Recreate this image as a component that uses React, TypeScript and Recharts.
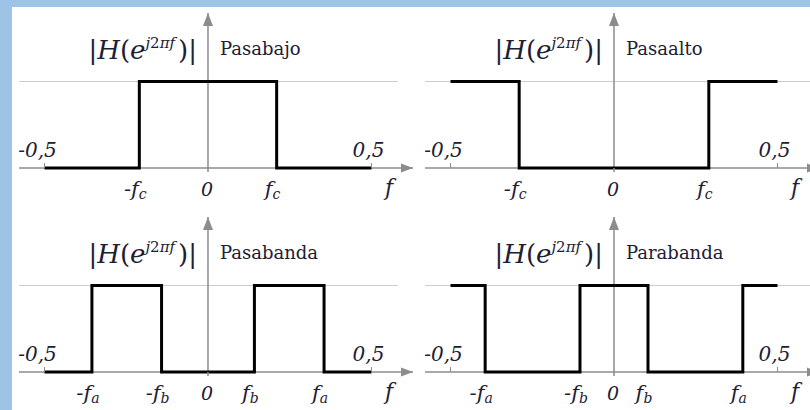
import { useMemo } from 'react'
import { Line, LineChart, ReferenceDot, ReferenceLine, XAxis, YAxis } from 'recharts'

// normalised frequency axis, the plot runs a little past ±0.5 to leave room for the arrow
const X_MIN = -0.578
const X_MAX = 0.627
const Y_MAX = 1.792

const axisGray = '#8c8c8c'
const gridGray = '#cdcdcd'
const textColor = '#1c2033'
const frameBlue = '#9dc3e6'
const serif = '"DejaVu Serif", "Liberation Serif", serif'

// ideal responses: breakpoints on f and the gain |H| at each of them
const lowpassF = [-0.5, -0.21, -0.21, 0.21, 0.21, 0.5]
const lowpassH = [0, 0, 1, 1, 0, 0]
const lowpassTicks = [-0.5, -0.21, 0, 0.21, 0.5]
const lowpassTickLabels = ['-0,5', '-fc', '0', 'fc', '0,5']

const highpassF = [-0.5, -0.29, -0.29, 0.29, 0.29, 0.5]
const highpassH = [1, 1, 0, 0, 1, 1]
const highpassTicks = [-0.5, -0.29, 0, 0.29, 0.5]
const highpassTickLabels = ['-0,5', '-fc', '0', 'fc', '0,5']

const bandpassF = [-0.5, -0.355, -0.355, -0.142, -0.142, 0.142, 0.142, 0.355, 0.355, 0.5]
const bandpassH = [0, 0, 1, 1, 0, 0, 1, 1, 0, 0]
const bandpassTicks = [-0.5, -0.355, -0.142, 0, 0.142, 0.355, 0.5]
const bandpassTickLabels = ['-0,5', '-fa', '-fb', '0', 'fb', 'fa', '0,5']

const bandstopF = [-0.5, -0.394, -0.394, -0.104, -0.104, 0.104, 0.104, 0.394, 0.394, 0.5]
const bandstopH = [1, 1, 0, 0, 1, 1, 0, 0, 1, 1]
const bandstopTicks = [-0.5, -0.394, -0.104, 0, 0.104, 0.394, 0.5]
const bandstopTickLabels = ['-0,5', '-fa', '-fb', '0', 'fb', 'fa', '0,5']

type PanelProps = {
  name: string
  f: number[]
  h: number[]
  ticks: number[]
  tickLabels: string[]
  gridEnd: number
  left: number
  top: number
}

function FreqTick({ x, y, value, label }: { x: number; y: number; value: number; label: string }) {
  if (Math.abs(value) === 0.5) {
    return (
      <g>
        <line x1={x} y1={y - 5} x2={x} y2={y} stroke={axisGray} strokeWidth={1} />
        <text
          x={value < 0 ? x - 7 : x - 3}
          y={y - 11}
          textAnchor="middle"
          fontFamily={serif}
          fontStyle="italic"
          fontSize={20}
          fill={textColor}
        >
          {label}
        </text>
      </g>
    )
  }
  const m = /^(-?)f(\w)$/.exec(label)
  if (!m) {
    return (
      <g>
        <line x1={x} y1={y} x2={x} y2={y + 4} stroke={axisGray} strokeWidth={1.5} />
        <text x={x - 1} y={y + 28} textAnchor="middle" fontFamily={serif} fontStyle="italic" fontSize={19} fill={textColor}>
          {label}
        </text>
      </g>
    )
  }
  return (
    <text x={x - 4} y={y + 28} textAnchor="middle" fontFamily={serif} fontStyle="italic" fontSize={21} fill={textColor}>
      {m[1]}f
      <tspan fontSize={14} dy={3}>
        {m[2]}
      </tspan>
    </text>
  )
}

function FilterPanel({ name, f, h, ticks, tickLabels, gridEnd, left, top }: PanelProps) {
  const data = useMemo(() => f.map((v, i) => ({ f: v, h: h[i] })), [f, h])

  const renderTitle = (props: any) => {
    const vb = props.viewBox ?? {}
    const x = vb.x ?? 0
    const y = vb.y ?? 0
    return (
      <g>
        <text x={x - 11} y={y + 46} textAnchor="end" fontFamily={serif} fontSize={26} fill={textColor}>
          <tspan>|</tspan>
          <tspan fontStyle="italic">H</tspan>
          <tspan>(</tspan>
          <tspan fontStyle="italic">e</tspan>
          <tspan fontSize={15} dy={-11} fontStyle="italic">
            j
          </tspan>
          <tspan fontSize={15}>2</tspan>
          <tspan fontSize={15} fontStyle="italic">
            πf
          </tspan>
          <tspan dy={11} dx={3}>
            )|
          </tspan>
        </text>
        <text x={x + 12} y={y + 42} fontFamily={serif} fontSize={18} fill={textColor}>
          {name}
        </text>
      </g>
    )
  }

  const renderAxisName = (props: any) => {
    const vb = props.viewBox ?? {}
    return (
      <text
        x={(vb.x ?? 0) + (vb.width ?? 0) - 24}
        y={(vb.y ?? 0) + 27}
        textAnchor="middle"
        fontFamily={serif}
        fontStyle="italic"
        fontSize={22}
        fill={textColor}
      >
        f
      </text>
    )
  }

  return (
    <div style={{ position: 'absolute', left, top }}>
      <LineChart width={420} height={205} data={data} margin={{ top: 13, right: 7, bottom: 0, left: 19 }}>
        <XAxis
          type="number"
          dataKey="f"
          domain={[X_MIN, X_MAX]}
          ticks={ticks}
          interval={0}
          height={37}
          tickSize={0}
          tickMargin={0}
          tickLine={false}
          axisLine={false}
          tick={(p: any) => (
            <FreqTick
              key={p.index}
              x={p.x}
              y={p.y}
              value={p.payload.value}
              label={tickLabels[ticks.indexOf(p.payload.value)] ?? ''}
            />
          )}
          label={renderAxisName}
        />
        <YAxis hide type="number" domain={[0, Y_MAX]} />
        <ReferenceLine
          segment={[
            { x: X_MIN, y: 1 },
            { x: gridEnd, y: 1 },
          ]}
          stroke={gridGray}
          strokeWidth={1}
          ifOverflow="visible"
        />
        {/* frequency axis, drawn under the response */}
        <ReferenceLine
          segment={[
            { x: X_MIN, y: 0 },
            { x: X_MAX, y: 0 },
          ]}
          stroke={axisGray}
          strokeWidth={1.5}
          ifOverflow="visible"
        />
        <ReferenceLine x={0} stroke={axisGray} strokeWidth={1.5} label={renderTitle} />
        <ReferenceDot
          x={0}
          y={Y_MAX}
          r={0}
          ifOverflow="visible"
          shape={(p: any) => (
            <polygon points={`${p.cx},${p.cy} ${p.cx - 5},${p.cy + 13} ${p.cx + 5},${p.cy + 13}`} fill={axisGray} />
          )}
        />
        <ReferenceDot
          x={X_MAX}
          y={0}
          r={0}
          ifOverflow="visible"
          shape={(p: any) => (
            <polygon points={`${p.cx},${p.cy} ${p.cx - 12},${p.cy - 4.5} ${p.cx - 12},${p.cy + 4.5}`} fill={axisGray} />
          )}
        />
        <Line
          type="linear"
          dataKey="h"
          stroke="#000"
          strokeWidth={3}
          strokeLinejoin="miter"
          dot={false}
          activeDot={false}
          zIndex={550}
          isAnimationActive={false}
        />
      </LineChart>
    </div>
  )
}

export default function App() {
  return (
    <div
      style={{
        position: 'absolute',
        left: 0,
        top: 0,
        width: 810,
        height: 410,
        overflow: 'hidden',
        background: '#fff',
      }}
    >
      <FilterPanel name="Pasabajo" f={lowpassF} h={lowpassH} ticks={lowpassTicks} tickLabels={lowpassTickLabels} gridEnd={0.581} left={0} top={0} />
      <FilterPanel name="Pasaalto" f={highpassF} h={highpassH} ticks={highpassTicks} tickLabels={highpassTickLabels} gridEnd={X_MAX} left={406} top={0} />
      <FilterPanel name="Pasabanda" f={bandpassF} h={bandpassH} ticks={bandpassTicks} tickLabels={bandpassTickLabels} gridEnd={0.581} left={0} top={204} />
      <FilterPanel name="Parabanda" f={bandstopF} h={bandstopH} ticks={bandstopTicks} tickLabels={bandstopTickLabels} gridEnd={X_MAX} left={406} top={204} />
      <div style={{ position: 'absolute', left: 0, top: 0, width: 810, height: 7, background: frameBlue }} />
      <div style={{ position: 'absolute', left: 0, top: 0, width: 12, height: 410, background: frameBlue }} />
    </div>
  )
}
